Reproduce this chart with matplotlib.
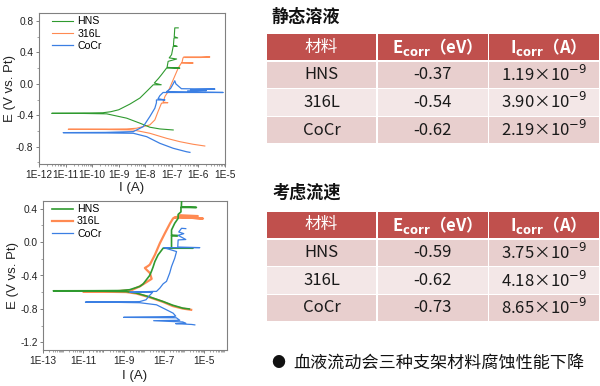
import matplotlib.pyplot as plt
import numpy as np
from matplotlib.ticker import FixedLocator, FuncFormatter, MultipleLocator
from matplotlib.patches import Rectangle

plt.rcParams['font.family'] = ['Liberation Sans', 'DejaVu Sans']
CJK = ['Noto Sans CJK SC', 'DejaVu Sans']

# ---- polarisation curves, log10(I / A) and E (V vs. Pt) ----
# static solution
hns_static_logi = [-6.95, -7.45, -7.83, -8.20, -8.70, -9.45, -10.3, -11.52, -10.4, -9.6, -9.3, -9.0,
                   -8.58, -8.20, -7.90, -7.70, -7.40, -7.66, -7.50, -7.39, -7.20, -6.70, -7.18, -7.14,
                   -6.82, -7.10, -7.01, -6.95, -6.80, -6.94, -6.92, -6.78, -6.91, -6.89, -6.76]
hns_static_e = [-0.587, -0.574, -0.552, -0.501, -0.437, -0.382, -0.377, -0.375, -0.372, -0.368, -0.355, -0.33,
                -0.258, -0.18, -0.08, -0.012, -0.012, 0.01, 0.07, 0.116, 0.20, 0.20, 0.21, 0.286,
                0.316, 0.33, 0.371, 0.477, 0.477, 0.49, 0.584, 0.584, 0.60, 0.712, 0.712]

l316_static_logi = [-5.76, -6.20, -6.70, -7.20, -7.83, -8.45, -9.5, -10.90, -9.5, -8.70, -8.33, -7.83,
                    -7.64, -7.52, -7.39, -7.15, -7.33, -7.26, -7.14, -6.95, -6.76, -6.64, -6.20, -6.62,
                    -6.58, -6.55, -5.57, -5.9, -6.5]
l316_static_e = [-0.791, -0.769, -0.736, -0.693, -0.629, -0.587, -0.581, -0.578, -0.576, -0.574, -0.565, -0.523,
                 -0.459, -0.353, -0.246, -0.24, -0.233, -0.161, -0.098, 0.052, 0.201, 0.265, 0.265, 0.27,
                 0.329, 0.342, 0.342, 0.335, 0.335]

cocr_static_logi = [-6.32, -6.45, -6.95, -7.45, -7.95, -8.45, -9.5, -11.09, -9.5, -8.45, -8.08, -7.83,
                    -7.64, -7.58, -7.58, -7.26, -7.52, -7.45, -7.33, -5.07, -7.20, -7.05, -6.95, -6.89,
                    -6.85, -6.75, -6.64, -5.38, -6.30, -5.70, -6.40]
cocr_static_e = [-0.872, -0.864, -0.82, -0.757, -0.672, -0.629, -0.625, -0.621, -0.618, -0.608, -0.545, -0.417,
                 -0.31, -0.24, -0.205, -0.205, -0.19, -0.15, -0.11, -0.11, -0.10, -0.06, 0.0, 0.039,
                 0.0, -0.03, -0.062, -0.067, -0.075, -0.085, -0.09]

# with flow
hns_flow_logi = [-5.72, -6.05, -6.55, -7.04, -7.71, -8.37, -8.87, -10.5, -12.50, -10.5, -9.18, -8.70,
                 -8.19, -8.02, -7.86, -7.70, -7.61, -7.53, -7.44, -7.28, -7.11, -7.03, -5.54, -6.61,
                 -6.61, -6.30, -6.61, -6.61, -6.45, -6.28, -6.28, -6.14, -6.14, -5.37, -6.12, -6.11]
hns_flow_e = [-0.80, -0.79, -0.755, -0.71, -0.655, -0.61, -0.592, -0.585, -0.583, -0.582, -0.58, -0.57,
              -0.53, -0.50, -0.45, -0.40, -0.35, -0.30, -0.233, -0.154, -0.10, -0.074, -0.074, -0.07,
              0.076, 0.076, 0.08, 0.144, 0.224, 0.283, 0.33, 0.36, 0.413, 0.413, 0.42, 0.48]

l316_flow_logi = [-5.63, -6.05, -6.55, -7.04, -7.71, -8.37, -8.87, -10.0, -11.02, -9.5, -8.60, -8.19,
                  -7.86, -7.60, -7.69, -7.86, -7.94, -7.80, -7.69, -7.44, -7.19, -6.94, -6.68, -6.53,
                  -6.36, -5.04, -6.30, -6.20, -5.30, -6.45]
l316_flow_e = [-0.81, -0.795, -0.765, -0.715, -0.66, -0.615, -0.598, -0.594, -0.592, -0.59, -0.575, -0.53,
               -0.48, -0.44, -0.37, -0.33, -0.31, -0.29, -0.27, -0.154, -0.014, 0.105, 0.224, 0.283,
               0.30, 0.28, 0.30, 0.32, 0.31, 0.29]

cocr_flow_logi = [-5.45, -5.60, -6.40, -5.90, -6.05, -7.50, -6.20, -6.37, -9.00, -6.50, -6.40, -6.53,
                  -6.86, -7.36, -8.20, -9.5, -10.9, -9.5, -8.20, -7.88, -7.71, -7.55, -8.69, -7.53,
                  -7.36, -7.19, -7.03, -6.86, -6.70, -6.61, -6.45, -6.36, -7.00, -5.20, -6.30, -6.28,
                  -5.90, -6.28, -6.00, -6.25, -6.11, -5.90]
cocr_flow_e = [-0.99, -0.985, -0.975, -0.97, -0.955, -0.94, -0.935, -0.905, -0.90, -0.89, -0.885, -0.85,
               -0.81, -0.75, -0.725, -0.72, -0.718, -0.716, -0.712, -0.69, -0.64, -0.60, -0.60, -0.59,
               -0.59, -0.55, -0.50, -0.47, -0.37, -0.293, -0.193, -0.114, -0.067, -0.067, -0.06, 0.025,
               0.03, 0.08, 0.10, 0.12, 0.164, 0.16]

# ---- tables ----
materials = ['HNS', '316L', 'CoCr']
static_ecorr = [-0.37, -0.54, -0.62]
static_icorr = [1.19, 3.90, 2.19]
flow_ecorr = [-0.59, -0.62, -0.73]
flow_icorr = [3.75, 4.18, 8.65]
icorr_exp = -9

GREEN = '#2f9a2f'
ORANGE = '#ff8a52'
BLUE = '#3b7fe3'
SPINE = '#808080'

fig = plt.figure(figsize=(6, 3.86), dpi=100)

# pixel-space overlay for the tables and texts
ax0 = fig.add_axes([0, 0, 1, 1])
ax0.set_xlim(0, 600)
ax0.set_ylim(386, 0)
ax0.axis('off')


def style_axes(ax, ylim, ymajor, xmin_exp, xmax, label_exps, minor_exps):
    ax.set_xscale('log')
    ax.set_xlim(10.0 ** xmin_exp, xmax)
    ax.set_ylim(*ylim)
    ax.xaxis.set_major_locator(FixedLocator([10.0 ** k for k in label_exps]))
    ax.xaxis.set_major_formatter(FuncFormatter(lambda v, p: f"1E{int(round(np.log10(v)))}"))
    minors = [s * 10.0 ** k for k in range(-14, -2) for s in range(2, 10)]
    minors += [10.0 ** k for k in minor_exps]
    ax.xaxis.set_minor_locator(FixedLocator(minors))
    ax.xaxis.set_minor_formatter(FuncFormatter(lambda v, p: ''))
    ax.yaxis.set_major_locator(MultipleLocator(ymajor))
    ax.yaxis.set_minor_locator(MultipleLocator(ymajor / 2))
    ax.yaxis.set_major_formatter(FuncFormatter(lambda v, p: f"{v:.1f}"))
    for s in ax.spines.values():
        s.set_color(SPINE)
        s.set_linewidth(0.8)
    ax.tick_params(which='major', length=2.5, width=0.7, color=SPINE, labelsize=7.3,
                   labelcolor='#222222', pad=1.5)
    ax.tick_params(which='minor', length=1.5, width=0.5, color=SPINE)
    ax.set_xlabel('I (A)', fontsize=9.5, color='#222222')
    ax.set_ylabel('E (V vs. Pt)', fontsize=9.5, color='#222222')


# top plot: static solution
ax1 = fig.add_axes([39 / 600, 1 - 164 / 386, 186 / 600, 151.3 / 386])
ax1.plot(10.0 ** np.array(hns_static_logi), hns_static_e, color=GREEN, lw=0.8, label='HNS', zorder=3)
ax1.plot(10.0 ** np.array(l316_static_logi), l316_static_e, color=ORANGE, lw=0.8, label='316L', zorder=2)
ax1.plot(10.0 ** np.array(cocr_static_logi), cocr_static_e, color=BLUE, lw=0.9, label='CoCr', zorder=4)
style_axes(ax1, (-1.02, 0.905), 0.4, -12, 1e-5, range(-12, -4), [])
ax1.xaxis.set_label_coords(0.5, -0.12)
ax1.yaxis.set_label_coords(-0.125, 0.5)
ax1.legend(loc='upper left', bbox_to_anchor=(0.07, 0.975), frameon=False, fontsize=7.6,
           borderpad=0, borderaxespad=0, handlelength=2.0, handletextpad=0.4, labelspacing=0.2)

# bottom plot: with flow
ax2 = fig.add_axes([43.3 / 600, 1 - 350 / 386, 183.4 / 600, 149 / 386])
ax2.plot(10.0 ** np.array(l316_flow_logi), l316_flow_e, color=ORANGE, lw=1.6, label='316L', zorder=2)
ax2.plot(10.0 ** np.array(hns_flow_logi), hns_flow_e, color=GREEN, lw=1.2, label='HNS', zorder=3)
ax2.plot(10.0 ** np.array(cocr_flow_logi), cocr_flow_e, color=BLUE, lw=0.9, label='CoCr', zorder=4)
style_axes(ax2, (-1.29, 0.49), 0.4, -13, 10.0 ** -3.86, [-13, -11, -9, -7, -5], [-12, -10, -8, -6, -4])
ax2.xaxis.set_label_coords(0.5, -0.135)
ax2.yaxis.set_label_coords(-0.135, 0.5)
h, l = ax2.get_legend_handles_labels()
order = [1, 0, 2]
ax2.legend([h[i] for i in order], [l[i] for i in order], loc='upper left', bbox_to_anchor=(0.046, 0.978),
           frameon=False, fontsize=7.6, borderpad=0, borderaxespad=0, handlelength=2.0,
           handletextpad=0.4, labelspacing=0.2)

# tables
col_edges = [266, 377, 488.5, 600]
HEAD = '#c0504d'
BANDS = ['#e8cfce', '#f3e7e7', '#e8cfce']


def draw_table(title, title_y, row_edges, ecorr, icorr):
    ax0.text(272, title_y, title, fontsize=12.3, fontweight='bold', family=CJK,
             ha='left', va='center', color='#111111')
    headers = ['材料', r'E$_{\mathbf{corr}}$（eV）', r'I$_{\mathbf{corr}}$（A）']
    for r in range(4):
        y0, y1 = row_edges[r], row_edges[r + 1]
        for c in range(3):
            x0, x1 = col_edges[c], col_edges[c + 1]
            color = HEAD if r == 0 else BANDS[r - 1]
            ax0.add_patch(Rectangle((x0 + 0.8, y0 + 0.8), x1 - x0 - 1.6, y1 - y0 - 1.6,
                                    facecolor=color, edgecolor='none'))
            xc, yc = (x0 + x1) / 2, (y0 + y1) / 2
            if r == 0:
                ax0.text(xc, yc, headers[c], fontsize=12, family=CJK, color='white',
                         fontweight='normal' if c == 0 else 'bold', ha='center', va='center')
            else:
                vals = [materials[r - 1], f"{ecorr[r - 1]:.2f}",
                        f"{icorr[r - 1]:.2f}×10$^{{{icorr_exp}}}$"]
                ax0.text(xc, yc, vals[c], fontsize=12, family=CJK, color='#1a1a1a',
                         ha='center', va='center')


draw_table('静态溶液', 16.5, [33.5, 61, 88.5, 116.3, 144], static_ecorr, static_icorr)
draw_table('考虑流速', 192.5, [211, 238.7, 266.5, 294.5, 321.5], flow_ecorr, flow_icorr)

ax0.text(278, 363, '●', fontsize=10, family=CJK, ha='center', va='center', color='#111111')
ax0.text(293, 363, '血液流动会三种支架材料腐蚀性能下降', fontsize=12.3, family=CJK,
         ha='left', va='center', color='#111111')

fig.savefig('out.png', dpi=100)
